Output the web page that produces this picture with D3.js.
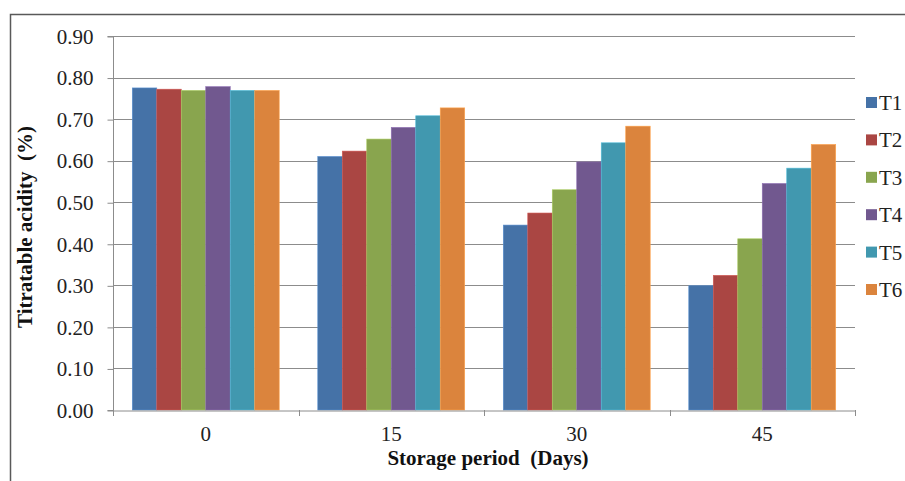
<!DOCTYPE html>
<html>
<head>
<meta charset="utf-8">
<script src="https://cdn.jsdelivr.net/npm/d3@7"></script>
<style>
  body { margin: 0; background: #fff; }
  svg { display: block; }
  svg text { font-family: 'Liberation Serif', 'Times New Roman', 'DejaVu Serif', serif; }
</style>
</head>
<body>
<svg id="chart" width="905" height="481"></svg>
<script>
const categories = ['0', '15', '30', '45']
const seriesNames = ['T1', 'T2', 'T3', 'T4', 'T5', 'T6']
const T1 = [0.775, 0.610, 0.445, 0.299]
const T2 = [0.772, 0.623, 0.474, 0.324]
const T3 = [0.769, 0.652, 0.530, 0.412]
const T4 = [0.778, 0.680, 0.597, 0.545]
const T5 = [0.769, 0.708, 0.643, 0.582]
const T6 = [0.769, 0.727, 0.683, 0.639]
const yTicks = [0, 0.1, 0.2, 0.3, 0.4, 0.5, 0.6, 0.7, 0.8, 0.9]
const colors = ['#4572A7', '#AA4643', '#89A54E', '#71588F', '#4198AF', '#DB843D']

const series = [T1, T2, T3, T4, T5, T6]

const margin = { top: 36, left: 113, right: 855, bottom: 410 }

const svg = d3.select('#chart')

/* outer frame */
svg.append('path')
  .attr('d', 'M10.5,490 V14.5 H920')
  .attr('fill', 'none')
  .attr('stroke', '#595959')
  .attr('stroke-width', 1.5)

const x0 = d3.scaleBand()
  .domain(categories)
  .range([margin.left, margin.right])

const gap = x0.bandwidth() * 0.208
const x1 = d3.scaleBand()
  .domain(seriesNames)
  .range([gap / 2, x0.bandwidth() - gap / 2])

const y = d3.scaleLinear()
  .domain([0, 0.9])
  .range([margin.bottom, margin.top])

/* gridlines */
svg.append('g')
  .selectAll('line')
  .data(yTicks.slice(1))
  .join('line')
  .attr('x1', margin.left)
  .attr('x2', margin.right)
  .attr('y1', (d) => Math.round(y(d)) + 0.5)
  .attr('y2', (d) => Math.round(y(d)) + 0.5)
  .attr('stroke', '#8c8c8c')
  .attr('stroke-width', 1)

/* bars */
seriesNames.forEach((name, s) => {
  svg.append('g')
    .selectAll('rect')
    .data(series[s])
    .join('rect')
    .attr('x', (d, i) => x0(categories[i]) + x1(name))
    .attr('y', (d) => y(d))
    .attr('width', x1.bandwidth())
    .attr('height', (d) => y(0) - y(d))
    .attr('fill', colors[s])
    .attr('stroke', d3.color(colors[s]).brighter(0.6))
    .attr('stroke-width', 0.6)
})

/* y axis */
const yAxis = svg.append('g')
  .attr('transform', `translate(${margin.left + 0.5}, 0.5)`)
  .call(
    d3.axisLeft(y)
      .tickValues(yTicks)
      .tickFormat(d3.format('.2f'))
      .tickSize(6)
      .tickPadding(14)
  )
yAxis.attr('font-family', null)
yAxis.select('.domain').attr('stroke', '#8c8c8c').attr('d', `M-6,${y(0.9)}H0V${y(0)}H-6`)
yAxis.selectAll('.tick line').attr('stroke', '#8c8c8c')
yAxis.selectAll('.tick text')
  .attr('font-size', 21)
  .attr('fill', '#222')

/* x axis */
const xAxis = svg.append('g')
  .attr('transform', `translate(0, ${margin.bottom + 0.5})`)
  .call(d3.axisBottom(x0).tickSize(0).tickPadding(16))
xAxis.attr('font-family', null)
xAxis.select('.domain').attr('stroke', '#8c8c8c')
xAxis.selectAll('.tick text')
  .attr('font-size', 21)
  .attr('fill', '#222')

/* category boundary ticks */
svg.append('g')
  .selectAll('line')
  .data(categories.concat(['end']))
  .join('line')
  .attr('x1', (d, i) => Math.round(margin.left + i * x0.step()) + 0.5)
  .attr('x2', (d, i) => Math.round(margin.left + i * x0.step()) + 0.5)
  .attr('y1', margin.bottom)
  .attr('y2', margin.bottom + 6)
  .attr('stroke', '#8c8c8c')

/* axis titles */
svg.append('text')
  .attr('transform', `translate(32, ${(margin.top + margin.bottom) / 2 + 4}) rotate(-90)`)
  .attr('text-anchor', 'middle')
  .attr('font-weight', 'bold')
  .attr('font-size', 21)
  .attr('fill', '#111')
  .attr('xml:space', 'preserve')
  .text('Titratable acidity  (%)')

svg.append('text')
  .attr('x', 488)
  .attr('y', 465)
  .attr('text-anchor', 'middle')
  .attr('font-weight', 'bold')
  .attr('font-size', 21)
  .attr('fill', '#111')
  .attr('xml:space', 'preserve')
  .text('Storage period  (Days)')

/* legend */
const legend = svg.append('g')
  .selectAll('g')
  .data(seriesNames)
  .join('g')
  .attr('transform', (d, i) => `translate(866, ${103 + i * 37.4})`)

legend.append('rect')
  .attr('x', 0)
  .attr('y', -6)
  .attr('width', 11)
  .attr('height', 11)
  .attr('fill', (d, i) => colors[i])

legend.append('text')
  .attr('x', 13)
  .attr('y', 7)
  .attr('font-size', 21)
  .attr('fill', '#222')
  .text((d) => d)
</script>
</body>
</html>
